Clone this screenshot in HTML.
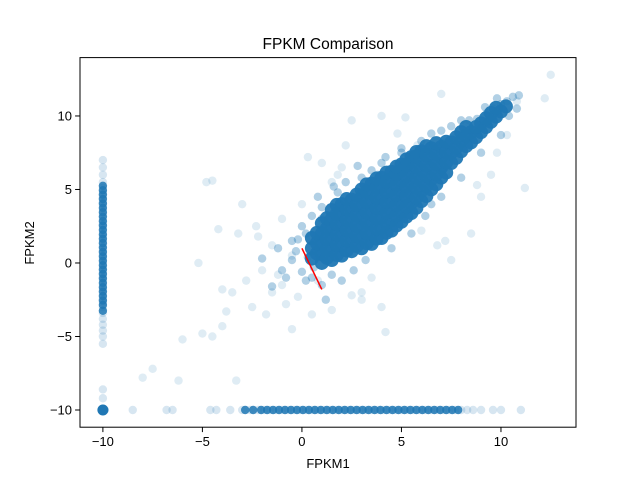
<!DOCTYPE html>
<html><head><meta charset="utf-8"><style>
body{margin:0;background:#fff;}
svg{display:block;font-family:"Liberation Sans","DejaVu Sans",sans-serif;}
</style></head><body>
<svg id="chart" width="640" height="480" viewBox="0 0 640 480">
<rect x="0" y="0" width="640" height="480" fill="#fff"/>
<g id="marks"></g>
<g id="axes"></g>
<text x="328" y="49" text-anchor="middle" font-size="15.5" fill="#000">FPKM Comparison</text>
<text x="328" y="468" text-anchor="middle" font-size="13" fill="#000">FPKM1</text>
<text x="0" y="0" transform="translate(34,243) rotate(-90)" text-anchor="middle" font-size="13" fill="#000">FPKM2</text>
</svg>
<script>
const xTicks=[-10,-5,0,5,10];
const yTicks=[-10,-5,0,5,10];
// dense core cloud: x value with list of y values
const coreX=[0.5,1.0,1.5,2.0,2.5,3.0,3.5,4.0,4.5,5.0,5.5,6.0,6.5,7.0,7.5,8.0,8.5,9.0,9.5,10.0,10.5];
const coreY=[
[0.3,1.0,1.7],
[0.0,0.6,1.3,2.0,2.7],
[0.2,0.9,1.6,2.3,3.0,3.6],
[0.5,1.2,1.9,2.6,3.3,4.0],
[0.8,1.5,2.2,2.9,3.6,4.3],
[1.0,1.7,2.4,3.1,3.8,4.5,5.0],
[1.3,2.0,2.7,3.4,4.1,4.8,5.4],
[1.7,2.4,3.1,3.8,4.5,5.2,5.8],
[2.2,2.9,3.6,4.3,5.0,5.7,6.2],
[2.8,3.5,4.2,4.9,5.6,6.3,6.7],
[3.4,4.1,4.8,5.5,6.2,6.9,7.2],
[4.2,4.9,5.6,6.3,7.0,7.6],
[5.0,5.7,6.4,7.1,7.8],
[5.8,6.5,7.2,7.9],
[6.8,7.5,8.2],
[7.6,8.3,8.9],
[8.2,8.9],
[8.9,9.5],
[9.6,10.2],
[10.3],
[]
];
// halo points around the cloud (medium)
const haloX=[-1.0,-0.5,0.0,-0.3,0.5,1.0,1.5,2.0,0.5,1.0,1.8,3.0,3.5,4.0,5.0,6.0,6.5,7.0,7.5,8.0,8.2,8.8,9.0,9.3,9.6,10.0,10.3,10.6,10.8,9.8,8.6,7.8,7.2,6.5,5.5,4.5,3.2,2.6,1.2,0.2,-0.8,-1.5,-2.0,2.2,3.8,5.0,6.2,7.0,8.0,9.0,10.0,0.8,1.6,2.8,4.2,-0.5,0.0,0.3,-1.2,0.2,1.0,-0.2,0.6,9.2,9.8,10.4,10.9,8.4];
const haloY=[-0.5,1.5,2.5,0.8,-1.0,-1.5,-0.8,-1.2,3.2,3.8,4.8,5.8,6.3,6.8,7.5,8.3,8.8,9.0,9.3,9.7,8.9,9.8,9.2,10.2,10.5,10.8,11.0,11.3,10.5,9.9,9.0,8.6,8.2,4.0,2.0,1.0,0.2,-0.5,-2.5,-1.2,-1.0,-1.6,0.3,5.5,6.0,7.8,3.2,4.5,5.8,7.5,8.7,4.5,5.2,6.6,7.2,0.2,-0.6,0.4,1.0,2.0,3.0,1.6,-0.3,10.6,11.2,10.0,11.4,9.7];
// sparse outliers
const outX=[-4.8,-4.5,-3.0,-2.3,-3.2,-5.2,-4.0,-3.5,-5.0,-4.5,-4.0,-6.0,-2.5,-1.5,-1.0,-0.5,-1.5,-1.0,0.0,0.3,1.5,3.0,4.0,4.2,2.5,1.5,0.5,-0.5,-3.3,-7.5,-8.0,-6.2,2.5,4.0,5.2,5.8,7.0,10.8,12.5,12.2,11.2,9.0,8.5,7.5,10.3,9.5,-2.0,-0.2,1.0,2.2,6.0,7.2,-1.8,-3.8,-2.8,-1.2,0.8,3.5,2.0,4.8,-0.8,8.8,9.8,6.8,3.0,1.8,-2.2,-4.2];
const outY=[5.5,5.6,4.0,2.5,2.0,0.0,-1.8,-2.0,-4.8,-5.0,-4.3,-5.2,-3.0,-2.0,-1.5,0.5,1.2,3.0,4.0,7.2,5.5,-2.0,-3.0,-4.7,-2.2,-3.2,-3.5,-4.5,-8.0,-7.2,-7.8,-8.0,9.7,10.0,9.9,8.0,11.5,11.0,12.8,11.2,5.1,4.5,2.0,0.2,8.7,6.0,-0.5,-2.3,6.8,8.0,2.2,1.5,-3.5,-3.3,-1.2,-0.8,-1.2,-1.0,6.5,8.8,-2.8,5.3,7.5,1.2,-2.5,6.0,1.8,2.3];
// vertical strip at FPKM1 = -10
const stripVY=[-9.9,-9.2,-8.6,-5.5,-5.0,-4.6,-4.2,-3.8,-3.4,-3.0,-2.7,-2.4,-2.1,-1.8,-1.5,-1.2,-0.9,-0.6,-0.3,0.0,0.3,0.6,0.9,1.2,1.5,1.8,2.1,2.4,2.7,3.0,3.3,3.6,3.9,4.2,4.5,4.8,5.1,5.5,6.0,6.5,7.0];
// horizontal strip at FPKM2 = -10
const stripHX=[-10,-9.9,-8.5,-6.8,-6.5,-4.6,-4.3,-3.6,-3.0,-2.6,-2.2,-1.9,-1.6,-1.3,-1.0,-0.7,-0.4,-0.1,0.2,0.5,0.8,1.1,1.4,1.7,2.0,2.3,2.6,2.9,3.2,3.5,3.8,4.1,4.4,4.7,5.0,5.3,5.6,5.9,6.2,6.5,6.8,7.1,7.4,7.7,8.0,8.3,8.6,9.0,9.6,10.0,11.0];
const fitX=[0,1];
const fitY=[1,-1.8];

const NS='http://www.w3.org/2000/svg';
const L=80,R=576,T=57.6,B=427.2;
const xMin=-11.15,xMax=13.77,yMin=-11.17,yMax=13.97;
function sx(v){return L+(v-xMin)/(xMax-xMin)*(R-L);}
function sy(v){return B-(v-yMin)/(yMax-yMin)*(B-T);}
const marks=document.getElementById('marks');
const axes=document.getElementById('axes');
function dot(x,y,r,op){
  const c=document.createElementNS(NS,'circle');
  c.setAttribute('cx',sx(x));c.setAttribute('cy',sy(y));c.setAttribute('r',r);
  c.setAttribute('fill','#1f77b4');c.setAttribute('fill-opacity',op);
  
  
  marks.appendChild(c);
}
outX.forEach((x,i)=>dot(x,outY[i],4.2,0.14));
haloX.forEach((x,i)=>dot(x,haloY[i],4.2,0.35));
stripVY.forEach(y=>dot(-10,y,4.2,0.18));
stripVY.forEach(y=>{if(y>-3.6&&y<5.3)dot(-10,y+0.15,4.2,0.85);});
stripHX.forEach(x=>dot(x,-10,4.2,0.18));
stripHX.forEach(x=>{if(x>-3.2&&x<7.8)dot(x+0.15,-10,4.2,0.85);});
coreX.forEach((x,i)=>coreY[i].forEach(y=>dot(x,y,7,0.95)));
coreX.forEach((x,i)=>coreY[i].forEach(y=>dot(x+0.25,y+0.35,7,0.95)));
dot(-10,-10,5.5,1);

const ln=document.createElementNS(NS,'line');
ln.setAttribute('x1',sx(fitX[0]));ln.setAttribute('y1',sy(fitY[0]));
ln.setAttribute('x2',sx(fitX[1]));ln.setAttribute('y2',sy(fitY[1]));
ln.setAttribute('stroke','#ff0000');ln.setAttribute('stroke-width','1.5');


marks.appendChild(ln);

const fr=document.createElementNS(NS,'rect');
fr.setAttribute('x',L);fr.setAttribute('y',T);fr.setAttribute('width',R-L);fr.setAttribute('height',B-T);
fr.setAttribute('fill','none');fr.setAttribute('stroke','#000');fr.setAttribute('stroke-width','1');


axes.appendChild(fr);
xTicks.forEach(v=>{
  const t=document.createElementNS(NS,'line');
  t.setAttribute('x1',sx(v));t.setAttribute('x2',sx(v));t.setAttribute('y1',B);t.setAttribute('y2',B+4.9);
  t.setAttribute('stroke','#000');
  
  
  axes.appendChild(t);
  const s=document.createElementNS(NS,'text');
  s.setAttribute('x',sx(v));s.setAttribute('y',B+19);s.setAttribute('text-anchor','middle');s.setAttribute('font-size','13');
  s.textContent=(v<0?'\u2212'+(-v):v);
  
  
  axes.appendChild(s);
});
yTicks.forEach(v=>{
  const t=document.createElementNS(NS,'line');
  t.setAttribute('x1',L-4.9);t.setAttribute('x2',L);t.setAttribute('y1',sy(v));t.setAttribute('y2',sy(v));
  t.setAttribute('stroke','#000');
  
  
  axes.appendChild(t);
  const s=document.createElementNS(NS,'text');
  s.setAttribute('x',L-8);s.setAttribute('y',sy(v)+4.5);s.setAttribute('text-anchor','end');s.setAttribute('font-size','13');
  s.textContent=(v<0?'\u2212'+(-v):v);
  
  
  axes.appendChild(s);
});
</script>
</body></html>
